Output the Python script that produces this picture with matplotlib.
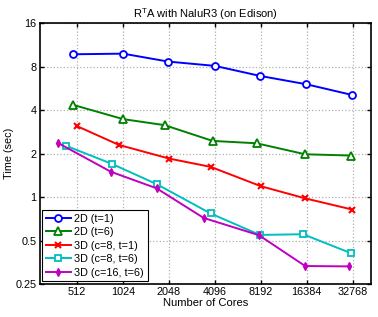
import matplotlib
matplotlib.use("Agg")
import matplotlib.pyplot as plt

plt.rcParams['font.family'] = ['Liberation Sans', 'DejaVu Sans']

# data (cores, seconds)
cores_2d_t1 = [480, 1024, 2020, 4096, 8100, 16300, 32500]
time_2d_t1 = [9.76, 9.86, 8.69, 8.11, 6.91, 6.05, 5.10]

cores_2d_t6 = [480, 1024, 1920, 3960, 7680, 16000, 32100]
time_2d_t6 = [4.36, 3.47, 3.15, 2.45, 2.36, 1.98, 1.94]

cores_3d_c8_t1 = [512, 960, 2048, 3840, 8192, 16000, 32500]
time_3d_c8_t1 = [3.10, 2.30, 1.85, 1.62, 1.19, 0.98, 0.82]

cores_3d_c8_t6 = [432, 864, 1700, 3840, 8070, 15500, 32100]
time_3d_c8_t6 = [2.27, 1.70, 1.23, 0.77, 0.547, 0.553, 0.408]

cores_3d_c16_t6 = [384, 850, 1700, 3456, 7950, 16000, 31000]
time_3d_c16_t6 = [2.37, 1.50, 1.15, 0.717, 0.545, 0.333, 0.331]

xticks = [512, 1024, 2048, 4096, 8192, 16384, 32768]
yticks = [0.25, 0.5, 1, 2, 4, 8, 16]
ytick_labels = ['0.25', '0.5', '1', '2', '4', '8', '16']

fig = plt.figure(figsize=(3.78, 3.17), dpi=100)
ax = fig.add_axes([39.5 / 378, 1 - 284 / 317, (371.3 - 39.5) / 378, (284 - 23.3) / 317])

lw = 1.4
ax.plot(cores_2d_t1, time_2d_t1, '-o', color=(0, 0, 1), lw=lw, ms=5, mfc='white', mew=1.3, label='2D (t=1)')
ax.plot(cores_2d_t6, time_2d_t6, '-^', color=(0, 0.5, 0), lw=lw, ms=5.5, mfc='white', mew=1.3, label='2D (t=6)')
ax.plot(cores_3d_c8_t1, time_3d_c8_t1, '-x', color=(1, 0, 0), lw=lw, ms=4, mew=1.5, label='3D (c=8, t=1)')
ax.plot(cores_3d_c8_t6, time_3d_c8_t6, '-s', color=(0, 0.75, 0.75), lw=lw, ms=5, mfc='white', mew=1.3, label='3D (c=8, t=6)')
ax.plot(cores_3d_c16_t6, time_3d_c16_t6, '-d', color=(0.75, 0, 0.75), lw=lw, ms=4, mew=1, label='3D (c=16, t=6)')

ax.set_xscale('log', base=2)
ax.set_yscale('log', base=2)
ax.set_xlim(290, 43400)
ax.set_ylim(0.25, 16)
ax.set_xticks(xticks)
ax.set_xticklabels([str(v) for v in xticks])
ax.set_yticks(yticks)
ax.set_yticklabels(ytick_labels)
ax.minorticks_off()
ax.tick_params(direction='in', top=True, right=True, length=3, width=1, labelsize=7.8, pad=2)
ax.grid(True, linestyle=':', color='#b0b0b0', linewidth=0.9)
for s in ax.spines.values():
    s.set_linewidth(1.2)

ax.set_title(r'R$^\mathregular{T}$A with NaluR3 (on Edison)', fontsize=8, pad=4)
ax.set_xlabel('Number of Cores', fontsize=8, labelpad=1)
ax.set_ylabel('Time (sec)', fontsize=7.8)
ax.yaxis.set_label_coords(-0.078, 0.5)

leg = ax.legend(loc='lower left', fontsize=7.8, fancybox=False, framealpha=1,
                edgecolor='black', borderaxespad=0.25, handlelength=2.3,
                labelspacing=0.32, borderpad=0.35, handletextpad=0.3)
leg.get_frame().set_linewidth(0.8)

fig.savefig('out.png', dpi=100)
